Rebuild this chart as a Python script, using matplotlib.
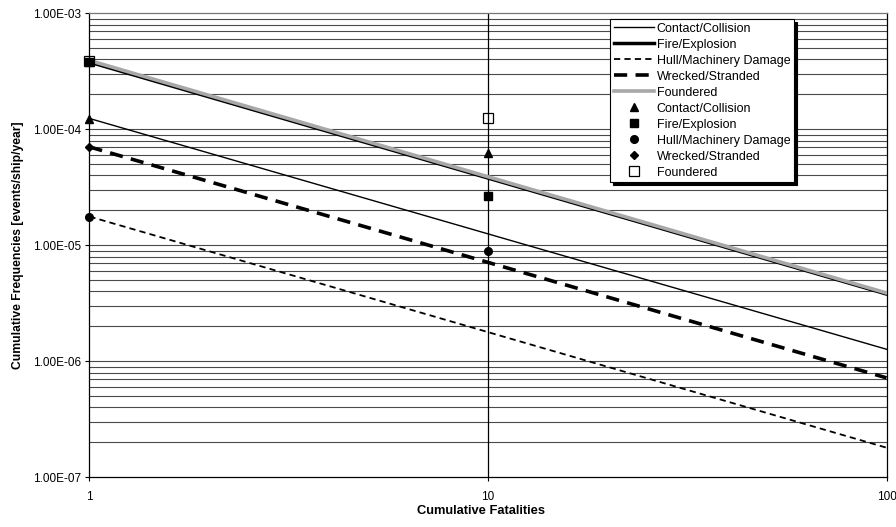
import numpy as np
import matplotlib
matplotlib.use("Agg")
import matplotlib.pyplot as plt
from matplotlib.ticker import FixedLocator, FuncFormatter, NullLocator
from matplotlib import font_manager

plt.rcParams['font.family'] = ['Liberation Sans', 'DejaVu Sans']
plt.rcParams['lines.scale_dashes'] = False

names = {f.name for f in font_manager.fontManager.ttflist}
narrow = 'Liberation Sans Narrow' if 'Liberation Sans Narrow' in names else None

# ---- data ----
line_x = [1, 100]
contact_line = [1.24e-4, 1.27e-6]
fire_line = [3.80e-4, 3.80e-6]
hull_line = [1.77e-5, 1.80e-7]
wrecked_line = [7.05e-5, 7.2e-7]
foundered_line = [3.92e-4, 3.88e-6]

pt_x = [1, 10]
contact_pts = [1.22e-4, 6.28e-5]
fire_pts = [3.81e-4, 2.65e-5]
hull_pts = [1.76e-5, 9.0e-6]
wrecked_pts = [7.08e-5, np.nan]
foundered_pts = [3.85e-4, 1.26e-4]

x_ticks = [1, 10, 100]
y_ticks = [1e-7, 1e-6, 1e-5, 1e-4, 1e-3]

fig = plt.figure(figsize=(8.96, 5.27), dpi=100)
ax = fig.add_axes([0.0998, 0.0943, 0.8896, 0.8805])
ax.set_xscale('log')
ax.set_yscale('log')
ax.set_xlim(1, 100)
ax.set_ylim(1e-7, 1e-3)

# grid: horizontal major+minor, vertical only at 10
minor_y = [m * 10.0**e for e in range(-7, -3) for m in range(2, 10)]
for v in minor_y + y_ticks[1:-1]:
    ax.axhline(v, color='#4a4a4a', lw=0.8, zorder=1)
ax.axvline(10, color='black', lw=0.9, zorder=1)

ax.plot(line_x, contact_line, color='black', lw=1.0, label='Contact/Collision', zorder=3)
ax.plot(line_x, fire_line, color='black', lw=2.5, label='Fire/Explosion', zorder=3)
ax.plot(line_x, hull_line, color='black', lw=1.3, dashes=(4.5, 3), label='Hull/Machinery Damage', zorder=3)
ax.plot(line_x, wrecked_line, color='black', lw=2.6, dashes=(9.5, 6), label='Wrecked/Stranded', zorder=3)
ax.plot(line_x, foundered_line, color='#a8a8a8', lw=2.6, label='Foundered', zorder=4)

ms = 5.5
ax.plot(pt_x, contact_pts, ls='none', marker='^', color='black', ms=ms, label='Contact/Collision',
        zorder=5, clip_on=False)
ax.plot(pt_x, fire_pts, ls='none', marker='s', color='black', ms=ms, label='Fire/Explosion',
        zorder=5, clip_on=False)
ax.plot(pt_x, hull_pts, ls='none', marker='o', color='black', ms=ms, label='Hull/Machinery Damage',
        zorder=5, clip_on=False)
ax.plot(pt_x, wrecked_pts, ls='none', marker='D', color='black', ms=ms - 1, label='Wrecked/Stranded',
        zorder=5, clip_on=False)
ax.plot(pt_x, foundered_pts, ls='none', marker='s', mfc='none', mec='black', mew=0.9, ms=ms + 1.5,
        label='Foundered', zorder=6, clip_on=False)

ax.xaxis.set_major_locator(FixedLocator(x_ticks))
ax.xaxis.set_minor_locator(NullLocator())
ax.xaxis.set_major_formatter(FuncFormatter(lambda v, p: f"{v:g}"))
ax.yaxis.set_major_locator(FixedLocator(y_ticks))
ax.yaxis.set_minor_locator(NullLocator())
ax.yaxis.set_major_formatter(FuncFormatter(lambda v, p: f"{v:.2E}"))
ax.tick_params(axis='y', direction='out', length=3, width=0.8, pad=3, labelsize=8.5)
ax.tick_params(axis='x', direction='out', length=3, width=0.8, pad=7, labelsize=8.5)

for s in ax.spines.values():
    s.set_color('black')
    s.set_linewidth(0.9)
ax.spines['top'].set_color('#777777')

if narrow:
    lab_kw = dict(family=[narrow, 'Liberation Sans'], fontweight='bold')
    ysz, xsz = 10.5, 11
else:
    lab_kw = dict(fontweight='bold')
    ysz, xsz = 8.7, 9.3

ax.set_ylabel('Cumulative Frequencies [events/ship/year]', fontsize=ysz, va='center', **lab_kw)
ax.yaxis.set_label_coords(-0.0896, 0.5)
ax.set_xlabel('Cumulative Fatalities', fontsize=xsz, va='center', **lab_kw)
ax.xaxis.set_label_coords(0.491, -0.073)

leg = ax.legend(loc='upper right', bbox_to_anchor=(0.884, 0.988), fontsize=9,
                frameon=True, fancybox=False, shadow={'color': 'black', 'alpha': 1.0},
                edgecolor='black', framealpha=1.0, handlelength=3.2, handletextpad=0.2,
                labelspacing=0.32, borderpad=0.3, borderaxespad=0)
leg.get_frame().set_linewidth(0.8)
leg.set_zorder(10)

fig.savefig('out.png', dpi=100)
